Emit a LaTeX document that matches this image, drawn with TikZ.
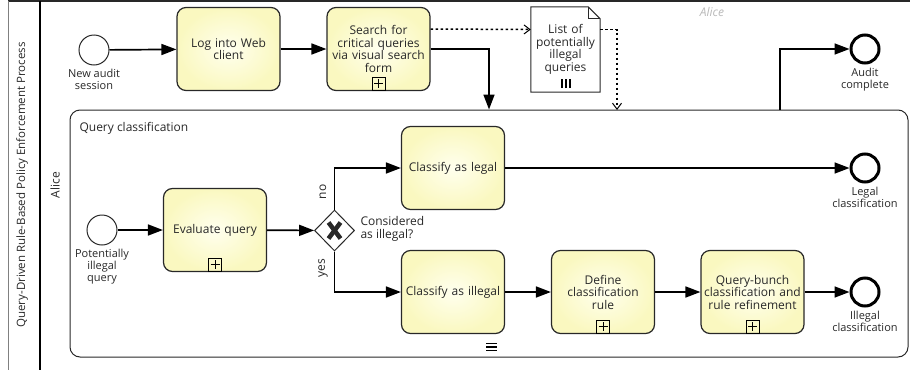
\documentclass[tikz,border=0pt]{standalone}
\usepackage{fontspec}
\setmainfont{Open Sans}
\usetikzlibrary{arrows.meta,shapes.geometric,positioning}

\definecolor{taskin}{RGB}{255,255,238}
\definecolor{taskout}{RGB}{250,248,192}
\definecolor{inkgray}{RGB}{40,40,40}

\tikzset{
  task/.style={draw=inkgray, line width=1.2pt, rounded corners=9pt,
    minimum width=103pt, minimum height=83pt, text width=97pt, inner sep=2pt,
    align=center, inner color=taskin, outer color=taskout, text=inkgray,
    font=\fontsize{12}{12.5}\selectfont},
  startev/.style={circle, draw=inkgray, line width=1pt, fill=white,
    minimum size=30pt, inner sep=0pt},
  endev/.style={circle, draw=black, line width=3pt, fill=white,
    minimum size=28pt, inner sep=0pt},
  evtext/.style={align=center, inner sep=1pt, text=inkgray,
    font=\fontsize{11}{12}\selectfont},
  flowtext/.style={text=inkgray, font=\fontsize{12}{12.5}\selectfont},
  flow/.style={line width=1.7pt, -{Triangle[length=15pt,width=11pt]}},
  dataflow/.style={line width=1.5pt, dash pattern=on 2.5pt off 2.5pt,
    -{Straight Barb[length=6pt,width=9pt,line width=1pt]}},
  plusmark/.style={draw=black, line width=0.8pt, minimum size=13pt,
    inner sep=0pt, fill=none,
    path picture={
      \draw[line width=0.8pt] ([yshift=-2pt]path picture bounding box.north)
        -- ([yshift=2pt]path picture bounding box.south);
      \draw[line width=0.8pt] ([xshift=2pt]path picture bounding box.west)
        -- ([xshift=-2pt]path picture bounding box.east);}},
}

\begin{document}
\hyphenpenalty=10000
\begin{tikzpicture}[x=1pt, y=-1pt]
    \useasboundingbox (0,0) rectangle (910,370);

    % Pool and lane
    \draw[line width=2pt, inkgray] (8,1) -- (910,1);
    \draw[line width=0.8pt, gray] (8,1) -- (8,370);
    \draw[line width=2pt, black] (40,1) -- (40,370);
    \node[rotate=90, flowtext, font=\fontsize{11.5}{12}\selectfont] (pool) at (22,185)
        {Query-Driven Rule-Based Policy Enforcement Process};
    \node[rotate=90, flowtext] (lane) at (55,185) {Alice};
    \node[text=gray!55, font=\fontsize{12}{12}\selectfont\itshape] (lanetop) at (712,12) {Alice};

    % Top level flow
    \node[startev] (newaudit) at (94,50) {};
    \node[evtext, below=2pt of newaudit] (newaudittext) {New audit\\session};
    \node[task] (login) at (228.5,49) {Log into Web\\client};
    \node[task] (search) at (378.5,49) {Search for\\critical queries\\via visual search\\form};
    \node[endev] (audit) at (865,49) {};
    \node[evtext, below=2pt of audit] (audittext) {Audit\\complete};

    % Data object (collection)
    \node[minimum width=69pt, minimum height=85pt, text width=66pt, align=center,
        inner sep=0pt, flowtext] (list) at (565.5,49.5) {List of\\potentially\\illegal\\queries\\[4pt]};
    \draw[line width=1pt, inkgray, fill=none] (list.south west) -- (list.north west)
        -- ([xshift=-12pt]list.north east) -- ([yshift=-12pt]list.north east)
        -- (list.south east) -- cycle;
    \draw[line width=1pt, inkgray] ([xshift=-12pt]list.north east)
        |- ([yshift=-12pt]list.north east);
    \foreach \dx in {-4,0,4}
        \draw[line width=2pt] ([xshift=\dx pt, yshift=4pt]list.south) -- ++(0,-9);

    % Sub-process
    \node[draw=inkgray, line width=1pt, rounded corners=10pt,
        minimum width=838pt, minimum height=247pt] (qc) at (489,233.5) {};
    \node[flowtext, anchor=north west] (qctext) at (76,119) {Query classification};
    \foreach \dy in {-3.5,0,3.5}
        \draw[line width=1.5pt] (486,347+\dy) -- (497,347+\dy);

    % Inside the sub-process
    \node[startev] (pquery) at (102,230) {};
    \node[evtext, below=2pt of pquery] (pquerytext) {Potentially\\illegal\\query};
    \node[task] (evaluate) at (215,230) {Evaluate query};
    \node[diamond, draw=inkgray, line width=1pt, fill=white, minimum width=40pt,
        minimum height=41pt, inner sep=0pt,
        path picture={
          \draw[line width=4.5pt] ([shift={(-6,-8)}]path picture bounding box.center)
            -- ([shift={(6,8)}]path picture bounding box.center);
          \draw[line width=4.5pt] ([shift={(-6,8)}]path picture bounding box.center)
            -- ([shift={(6,-8)}]path picture bounding box.center);}] (gw) at (334.5,230.5) {};
    \node[flowtext, align=left, anchor=west] (gwtext) at (357,229) {Considered\\as illegal?};
    \node[task] (legal) at (453,168) {Classify as legal};
    \node[task] (illegal) at (453,292) {Classify as illegal};
    \node[task] (define) at (603,292) {Define\\classification\\rule};
    \node[task] (bunch) at (752.5,292) {Query-bunch\\classification and\\rule refinement};
    \node[endev] (legalend) at (865,168) {};
    \node[evtext, below=2pt of legalend] (legalendtext) {Legal\\classification};
    \node[endev] (illegalend) at (865,292) {};
    \node[evtext, below=2pt of illegalend] (illegalendtext) {Illegal\\classification};

    % Collapsed sub-process markers
    \foreach \t in {search,evaluate,define,bunch}
        \node[plusmark] (\t plus) at ([yshift=7.5pt]\t.south) {};

    % Sequence flows
    \draw[flow] (newaudit) -- (login);
    \draw[flow] (login) -- (search);
    \draw[flow] (search.east) -| (qc.north);
    \coordinate (qcout) at (780,110);
    \draw[flow] (qcout) |- (audit);
    \draw[flow] (pquery) -- (evaluate);
    \draw[flow] (evaluate) -- (gw);
    \draw[flow] (gw.north) |- (legal);
    \draw[flow] (gw.south) |- (illegal);
    \node[flowtext, rotate=90] (notext) at (323,192) {no};
    \node[flowtext, rotate=90] (yestext) at (323,268) {yes};
    \draw[flow] (legal) -- (legalend);
    \draw[flow] (illegal) -- (define);
    \draw[flow] (define) -- (bunch);
    \draw[flow] (bunch) -- (illegalend);

    % Data associations
    \draw[dataflow] ([yshift=20pt]search.east) -- ([yshift=20pt]list.west);
    \coordinate (listin) at (617,110);
    \draw[dataflow] ([yshift=20pt]list.east) -| (listin);
\end{tikzpicture}
\end{document}
